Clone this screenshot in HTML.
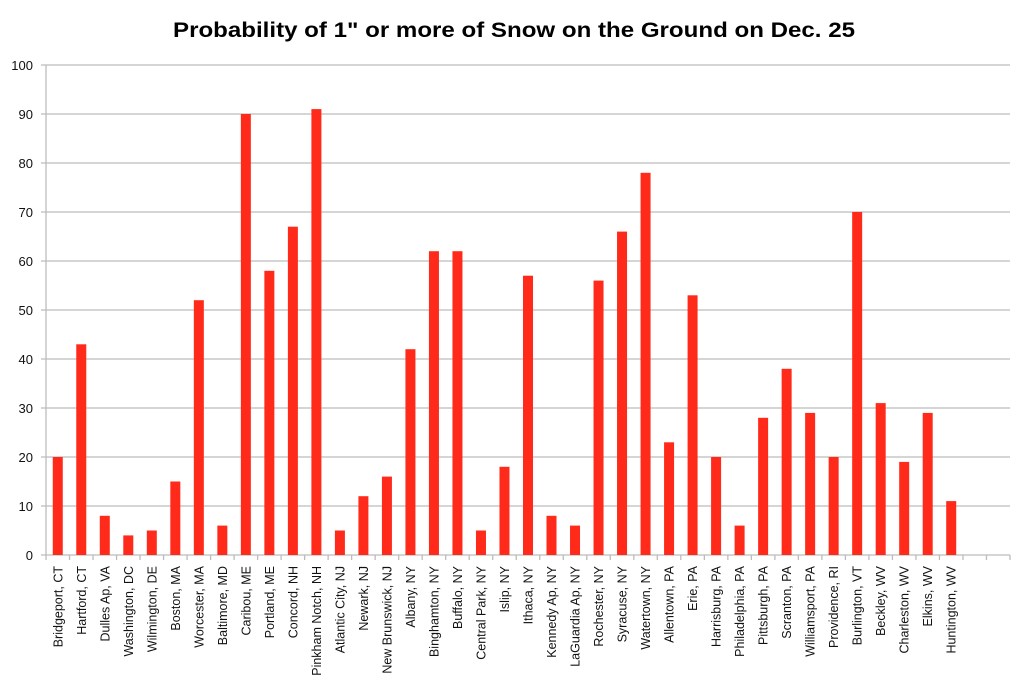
<!DOCTYPE html>
<html><head><meta charset="utf-8"><style>
html,body{margin:0;padding:0;background:#fff;}
svg{display:block;font-family:"Liberation Sans",sans-serif;}
</style></head><body>
<svg width="1028" height="688" viewBox="0 0 1028 688" xmlns="http://www.w3.org/2000/svg">
<rect width="1028" height="688" fill="#fff"/>
<text x="514" y="37" text-anchor="middle" font-size="21" font-weight="bold" textLength="682" lengthAdjust="spacingAndGlyphs">Probability of 1" or more of Snow on the Ground on Dec. 25</text>
<g stroke="#bcbcbc" stroke-width="1.3">
<line x1="41" x2="1010" y1="555" y2="555"/>
<line x1="41" x2="1010" y1="506" y2="506"/>
<line x1="41" x2="1010" y1="457" y2="457"/>
<line x1="41" x2="1010" y1="408" y2="408"/>
<line x1="41" x2="1010" y1="359" y2="359"/>
<line x1="41" x2="1010" y1="310" y2="310"/>
<line x1="41" x2="1010" y1="261" y2="261"/>
<line x1="41" x2="1010" y1="212" y2="212"/>
<line x1="41" x2="1010" y1="163" y2="163"/>
<line x1="41" x2="1010" y1="114" y2="114"/>
<line x1="41" x2="1010" y1="65" y2="65"/>
<line x1="46" x2="46" y1="65" y2="555"/>
<path fill="none" d="M46 555v5M69.51 555v5M93.02 555v5M116.54 555v5M140.05 555v5M163.56 555v5M187.07 555v5M210.58 555v5M234.1 555v5M257.61 555v5M281.12 555v5M304.63 555v5M328.14 555v5M351.66 555v5M375.17 555v5M398.68 555v5M422.19 555v5M445.7 555v5M469.22 555v5M492.73 555v5M516.24 555v5M539.75 555v5M563.26 555v5M586.78 555v5M610.29 555v5M633.8 555v5M657.31 555v5M680.82 555v5M704.34 555v5M727.85 555v5M751.36 555v5M774.87 555v5M798.38 555v5M821.9 555v5M845.41 555v5M868.92 555v5M892.43 555v5M915.94 555v5M939.46 555v5M962.97 555v5M986.48 555v5M1010 555v5"/>
</g>
<g font-size="13" fill="#111" text-anchor="end">
<text x="33" y="560">0</text>
<text x="33" y="511">10</text>
<text x="33" y="462">20</text>
<text x="33" y="413">30</text>
<text x="33" y="364">40</text>
<text x="33" y="315">50</text>
<text x="33" y="266">60</text>
<text x="33" y="217">70</text>
<text x="33" y="168">80</text>
<text x="33" y="119">90</text>
<text x="33" y="70">100</text>
</g>
<g fill="#ff2a1a">
<rect x="52.76" y="457" width="10" height="98"/>
<rect x="76.27" y="344.3" width="10" height="210.7"/>
<rect x="99.78" y="515.8" width="10" height="39.2"/>
<rect x="123.29" y="535.4" width="10" height="19.6"/>
<rect x="146.8" y="530.5" width="10" height="24.5"/>
<rect x="170.32" y="481.5" width="10" height="73.5"/>
<rect x="193.83" y="300.2" width="10" height="254.8"/>
<rect x="217.34" y="525.6" width="10" height="29.4"/>
<rect x="240.85" y="114" width="10" height="441"/>
<rect x="264.36" y="270.8" width="10" height="284.2"/>
<rect x="287.88" y="226.7" width="10" height="328.3"/>
<rect x="311.39" y="109.1" width="10" height="445.9"/>
<rect x="334.9" y="530.5" width="10" height="24.5"/>
<rect x="358.41" y="496.2" width="10" height="58.8"/>
<rect x="381.92" y="476.6" width="10" height="78.4"/>
<rect x="405.44" y="349.2" width="10" height="205.8"/>
<rect x="428.95" y="251.2" width="10" height="303.8"/>
<rect x="452.46" y="251.2" width="10" height="303.8"/>
<rect x="475.97" y="530.5" width="10" height="24.5"/>
<rect x="499.48" y="466.8" width="10" height="88.2"/>
<rect x="523" y="275.7" width="10" height="279.3"/>
<rect x="546.51" y="515.8" width="10" height="39.2"/>
<rect x="570.02" y="525.6" width="10" height="29.4"/>
<rect x="593.53" y="280.6" width="10" height="274.4"/>
<rect x="617.04" y="231.6" width="10" height="323.4"/>
<rect x="640.56" y="172.8" width="10" height="382.2"/>
<rect x="664.07" y="442.3" width="10" height="112.7"/>
<rect x="687.58" y="295.3" width="10" height="259.7"/>
<rect x="711.09" y="457" width="10" height="98"/>
<rect x="734.6" y="525.6" width="10" height="29.4"/>
<rect x="758.12" y="417.8" width="10" height="137.2"/>
<rect x="781.63" y="368.8" width="10" height="186.2"/>
<rect x="805.14" y="412.9" width="10" height="142.1"/>
<rect x="828.65" y="457" width="10" height="98"/>
<rect x="852.16" y="212" width="10" height="343"/>
<rect x="875.68" y="403.1" width="10" height="151.9"/>
<rect x="899.19" y="461.9" width="10" height="93.1"/>
<rect x="922.7" y="412.9" width="10" height="142.1"/>
<rect x="946.21" y="501.1" width="10" height="53.9"/>
</g>
<g font-size="12.5" fill="#111" text-anchor="end">
<text transform="translate(62.26,566) rotate(-90)">Bridgeport, CT</text>
<text transform="translate(85.77,566) rotate(-90)">Hartford, CT</text>
<text transform="translate(109.28,566) rotate(-90)">Dulles Ap, VA</text>
<text transform="translate(132.79,566) rotate(-90)">Washington, DC</text>
<text transform="translate(156.3,566) rotate(-90)">Wilmington, DE</text>
<text transform="translate(179.82,566) rotate(-90)">Boston, MA</text>
<text transform="translate(203.33,566) rotate(-90)">Worcester, MA</text>
<text transform="translate(226.84,566) rotate(-90)">Baltimore, MD</text>
<text transform="translate(250.35,566) rotate(-90)">Caribou, ME</text>
<text transform="translate(273.86,566) rotate(-90)">Portland, ME</text>
<text transform="translate(297.38,566) rotate(-90)">Concord, NH</text>
<text transform="translate(320.89,566) rotate(-90)">Pinkham Notch, NH</text>
<text transform="translate(344.4,566) rotate(-90)">Atlantic City, NJ</text>
<text transform="translate(367.91,566) rotate(-90)">Newark, NJ</text>
<text transform="translate(391.42,566) rotate(-90)">New Brunswick, NJ</text>
<text transform="translate(414.94,566) rotate(-90)">Albany, NY</text>
<text transform="translate(438.45,566) rotate(-90)">Binghamton, NY</text>
<text transform="translate(461.96,566) rotate(-90)">Buffalo, NY</text>
<text transform="translate(485.47,566) rotate(-90)">Central Park, NY</text>
<text transform="translate(508.98,566) rotate(-90)">Islip, NY</text>
<text transform="translate(532.5,566) rotate(-90)">Ithaca, NY</text>
<text transform="translate(556.01,566) rotate(-90)">Kennedy Ap, NY</text>
<text transform="translate(579.52,566) rotate(-90)">LaGuardia Ap, NY</text>
<text transform="translate(603.03,566) rotate(-90)">Rochester, NY</text>
<text transform="translate(626.54,566) rotate(-90)">Syracuse, NY</text>
<text transform="translate(650.06,566) rotate(-90)">Watertown, NY</text>
<text transform="translate(673.57,566) rotate(-90)">Allentown, PA</text>
<text transform="translate(697.08,566) rotate(-90)">Erie, PA</text>
<text transform="translate(720.59,566) rotate(-90)">Harrisburg, PA</text>
<text transform="translate(744.1,566) rotate(-90)">Philadelphia, PA</text>
<text transform="translate(767.62,566) rotate(-90)">Pittsburgh, PA</text>
<text transform="translate(791.13,566) rotate(-90)">Scranton, PA</text>
<text transform="translate(814.64,566) rotate(-90)">Williamsport, PA</text>
<text transform="translate(838.15,566) rotate(-90)">Providence, RI</text>
<text transform="translate(861.66,566) rotate(-90)">Burlington, VT</text>
<text transform="translate(885.18,566) rotate(-90)">Beckley, WV</text>
<text transform="translate(908.69,566) rotate(-90)">Charleston, WV</text>
<text transform="translate(932.2,566) rotate(-90)">Elkins, WV</text>
<text transform="translate(955.71,566) rotate(-90)">Huntington, WV</text>
</g>
</svg>
</body></html>
